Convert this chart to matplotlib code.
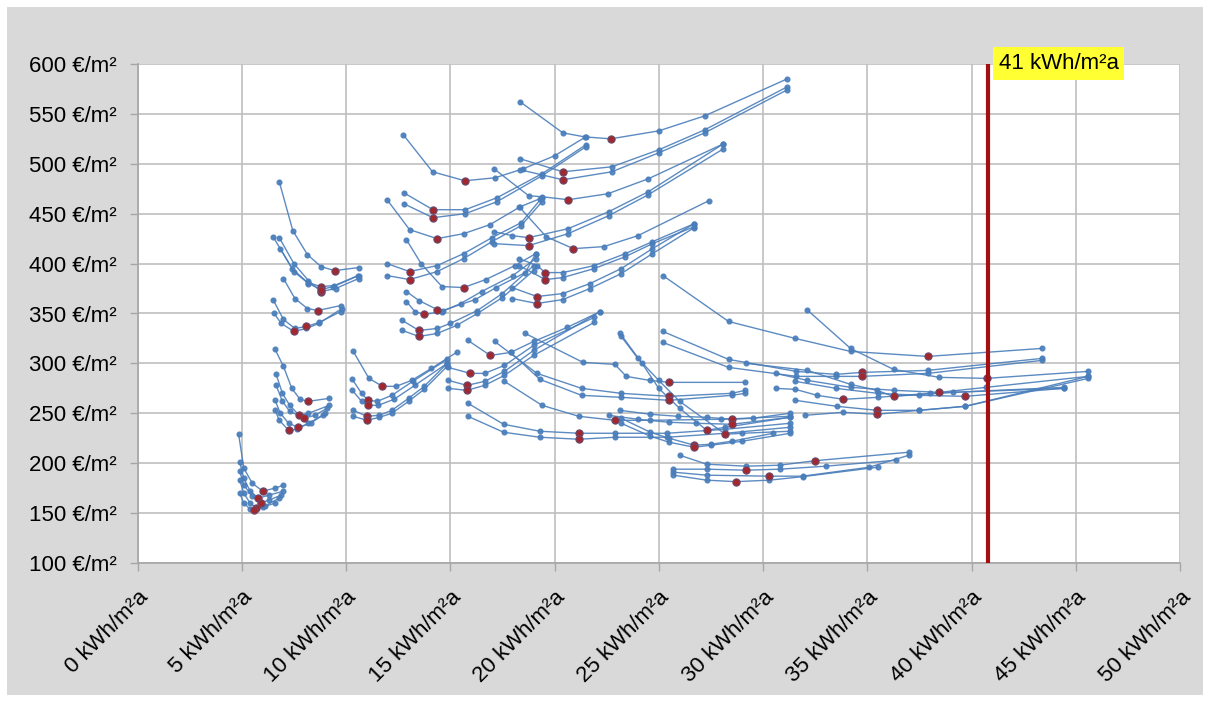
import matplotlib
matplotlib.use("Agg")
import matplotlib.pyplot as plt
from matplotlib.patches import Rectangle
import matplotlib.transforms as mtransforms

# ---------------- data: each curve = (energy values, cost values, index of optimum) -------------
x_ticks = [0, 5, 10, 15, 20, 25, 30, 35, 40, 45, 50]
x_tick_labels = [f"{v} kWh/m²a" for v in x_ticks]
y_ticks = [100, 150, 200, 250, 300, 350, 400, 450, 500, 550, 600]
y_tick_labels = [f"{v} €/m²" for v in y_ticks]
limit_value = 40.8
limit_label = "41 kWh/m²a"

group_a = [
    ([4.85, 5.1, 5.5, 6.0, 6.6, 7.0], [229, 195, 180, 172, 175, 178], 3),
    ([4.9, 5.1, 5.4, 5.8, 6.3, 7.0], [201, 185, 172, 165, 168, 172], 3),
    ([4.9, 5.1, 5.5, 5.9, 6.3, 6.9], [192, 178, 167, 160, 163, 168], 3),
    ([4.9, 5.1, 5.4, 5.7, 6.1, 6.8], [183, 170, 160, 155, 157, 165], 3),
    ([4.9, 5.1, 5.4, 5.6, 6.0, 6.6], [170, 160, 154, 153, 156, 160], 3),
]

group_b = [
    ([6.8, 7.45, 8.15, 8.8, 9.45, 10.6], [482, 433, 409, 397, 393, 396], 4),
    ([6.5, 7.42, 8.16, 8.8, 9.44, 10.58], [427, 395, 381, 377, 378, 388], 3),
    ([6.8, 7.5, 8.2, 8.8, 9.5, 10.6], [426, 400, 383, 372, 375, 385], 3),
    ([6.85, 7.5, 8.2, 8.8, 9.4, 10.6], [415, 392, 380, 374, 377, 388], 3),
    ([7.0, 7.55, 8.15, 8.65, 9.75], [385, 365, 355, 353, 358], 3),
    ([6.5, 7.0, 7.55, 8.1, 8.7, 9.75], [364, 344, 335, 337, 341, 352], 3),
    ([6.55, 6.9, 7.5, 8.1, 8.7, 9.8], [350, 340, 332, 335, 340, 355], 2),
    ([6.6, 7.0, 7.4, 7.8, 8.2, 9.2], [314, 297, 275, 264, 262, 265], 4),
    ([6.65, 6.95, 7.3, 7.75, 8.2, 9.2], [289, 270, 258, 248, 250, 258], 3),
    ([6.65, 6.95, 7.3, 8.0, 8.5, 9.1], [278, 262, 252, 245, 248, 255], 3),
    ([6.6, 6.85, 7.25, 7.7, 8.3, 9.0], [263, 250, 240, 236, 240, 250], 3),
    ([6.6, 6.8, 7.25, 7.65, 8.2, 8.9], [253, 243, 233, 234, 240, 248], 2),
]

group_c = [
    ([10.35, 11.1, 11.75, 12.4, 13.15, 14.1, 15.3], [312, 285, 277, 277, 283, 295, 311], 2),
    ([10.3, 10.75, 11.05, 11.5, 12.2, 13.2, 14.85], [284, 270, 263, 262, 268, 282, 304], 2),
    ([10.3, 10.75, 11.05, 11.55, 12.3, 13.3, 14.85], [273, 262, 258, 258, 264, 278, 300], 2),
    ([10.35, 11.0, 11.6, 12.2, 13.0, 13.75, 14.85], [253, 247, 248, 253, 265, 277, 300], 1),
    ([10.35, 11.0, 11.6, 12.2, 13.0, 13.75, 14.85], [247, 243, 246, 250, 262, 274, 297], 1),
]

group_d = [
    ([12.75, 14.15, 15.7, 17.15, 18.5, 20.0, 21.5], [529, 492, 483, 486, 495, 508, 527], 2),
    ([12.77, 14.17, 15.72, 17.24, 19.4, 21.5], [471, 454, 454, 466, 490, 519], 1),
    ([12.77, 14.17, 15.72, 17.24, 19.4, 21.5], [460, 446, 450, 462, 488, 517], 1),
    ([11.97, 13.05, 14.37, 15.64, 16.9, 18.36, 19.3], [464, 434, 425, 430, 439, 457, 465], 2),
    ([11.97, 13.05, 14.37, 15.64, 17.0, 18.4, 19.4], [400, 392, 398, 410, 426, 441, 466], 1),
    ([11.97, 13.05, 14.37, 15.64, 17.0, 18.4, 19.4], [388, 384, 392, 405, 422, 438, 462], 1),
    ([12.9, 13.6, 14.6, 15.64, 16.7, 18.1, 19.1], [424, 400, 377, 376, 384, 398, 410], 3),
    ([12.9, 13.5, 14.37, 14.65, 16.2, 17.2, 18.6, 19.1], [372, 363, 354, 353, 364, 376, 391, 410], 2),
    ([12.9, 13.3, 13.76, 14.6, 15.5, 16.5, 18.0, 19.1], [362, 352, 349, 352, 360, 372, 388, 405], 2),
    ([12.7, 13.5, 14.37, 15.0, 16.3, 17.5, 19.0], [343, 333, 335, 340, 353, 370, 398], 1),
    ([12.7, 13.5, 14.37, 15.3, 16.3, 17.5, 19.0], [333, 327, 330, 338, 350, 366, 393], 1),
]

group_e = [
    ([18.36, 20.4, 21.44, 22.7, 25.0, 27.2, 31.15], [562, 531, 527, 525, 533, 548, 585], 3),
    ([18.36, 20.4, 22.75, 25.0, 27.2, 31.15], [505, 492, 497, 514, 534, 577], 1),
    ([18.36, 20.4, 22.75, 25.0, 27.2, 31.15], [494, 484, 492, 511, 531, 574], 1),
    ([17.1, 18.76, 19.4, 20.66, 22.56, 24.5, 28.1], [495, 468, 467, 464, 470, 485, 520], 3),
    ([17.1, 17.96, 18.76, 20.65, 22.6, 24.5, 28.1], [432, 428, 426, 435, 452, 472, 520], 2),
    ([17.1, 18.76, 20.65, 22.6, 24.5, 28.1], [420, 418, 430, 448, 469, 515], 1),
    ([18.3, 19.6, 20.9, 22.36, 24.0, 27.4], [457, 427, 415, 417, 428, 463], 2),
    ([18.3, 19.16, 19.56, 20.4, 21.9, 23.4, 24.7, 26.7], [405, 398, 391, 391, 398, 410, 422, 440], 2),
    ([18.3, 19.56, 20.4, 21.9, 23.4, 24.7, 26.7], [398, 384, 386, 395, 407, 420, 437], 1),
    ([17.96, 19.16, 20.4, 21.7, 23.2, 24.7, 26.7], [376, 367, 370, 380, 395, 415, 440], 1),
    ([17.96, 19.16, 20.4, 21.7, 23.2, 24.7, 26.7], [365, 360, 364, 375, 390, 410, 436], 1),
]

group_f = [
    ([14.9, 15.96, 16.65, 17.6, 19.0, 21.9], [296, 290, 290, 298, 318, 346], 1),
    ([14.9, 15.8, 16.65, 17.6, 19.0, 22.2], [283, 278, 282, 292, 313, 352], 1),
    ([14.9, 15.8, 16.65, 17.6, 19.0, 21.9], [275, 273, 278, 288, 308, 341], 1),
    ([15.85, 16.92, 17.9, 19.0, 20.6, 22.2], [323, 308, 311, 322, 336, 352], 1),
]

group_g = [
    ([15.85, 17.56, 19.3, 21.17, 22.9, 25.4, 28.2, 31.3], [260, 239, 232, 230, 230, 230, 234, 240], 3),
    ([15.85, 17.56, 19.3, 21.17, 22.9, 25.4, 28.2, 31.3], [247, 231, 226, 224, 226, 226, 230, 236], 3),
]

group_j = [
    ([17.13, 19.16, 21.3, 23.2, 25.5, 28.5, 29.15], [322, 290, 275, 270, 267, 270, 273], 4),
    ([17.9, 19.3, 21.3, 23.2, 25.5, 28.5, 29.15], [311, 284, 268, 266, 263, 268, 270], 4),
    ([17.6, 19.4, 21.16, 22.9, 24.6, 28.0, 31.3], [282, 258, 247, 243, 243, 244, 247], 3),
    ([18.6, 21.37, 22.9, 23.44, 24.56, 25.5, 29.15], [330, 301, 299, 287, 283, 281, 281], 5),
]

group_l = [
    ([23.15, 24.2, 25.0, 26.0, 27.3, 28.2, 31.3], [330, 300, 275, 255, 233, 236, 246], 4),
    ([23.2, 24.0, 25.0, 26.0, 28.2, 29.0, 31.3], [327, 305, 283, 262, 229, 230, 232], 4),
    ([23.15, 24.6, 25.9, 27.3, 28.5, 29.5, 31.3], [253, 249, 247, 246, 244, 245, 250], 4),
    ([22.6, 24.0, 25.5, 26.8, 28.5, 31.3], [248, 244, 241, 240, 239, 246], 4),
    ([23.2, 24.6, 25.5, 26.7, 27.5, 28.5, 30.5], [245, 231, 225, 218, 219, 222, 230], 3),
    ([23.2, 24.6, 25.5, 26.7, 27.5, 29.0, 31.3], [240, 227, 221, 216, 218, 222, 230], 3),
]

group_m = [
    ([26.0, 27.3, 29.2, 30.8, 32.5, 37.0], [208, 199, 197, 198, 202.5, 211], 4),
    ([25.7, 27.3, 29.2, 30.8, 33.0, 36.4], [194, 194, 193, 194, 197, 203], 2),
    ([25.7, 27.3, 28.7, 30.3, 31.9, 35.5], [188, 183, 181.5, 183, 186.5, 196], 2),
    ([25.7, 27.3, 30.27, 31.9, 35.1, 37.0], [191, 188, 187, 187, 196, 208], 2),
]

group_h = [
    ([25.2, 28.35, 31.55, 34.2, 37.9, 43.37], [388, 342, 325, 312, 307, 315], 4),
    ([32.1, 34.2, 36.26, 38.46, 40.73, 45.6], [354, 315, 294, 286, 285, 292], 4),
    ([25.2, 28.35, 31.6, 33.5, 34.74, 37.9, 43.37], [332, 304, 292, 289, 291, 293, 305], 4),
    ([25.2, 28.35, 31.6, 33.5, 34.74, 37.9, 43.37], [321, 296, 287, 287, 287, 290, 303], 4),
]

group_i = [
    ([29.2, 32.13, 34.2, 35.46, 36.26, 39.1, 44.44], [300, 293, 279, 273, 267, 271, 275], 4),
    ([30.6, 32.13, 34.2, 36.3, 38.46, 40.7, 45.6], [290, 283, 276, 273, 271, 276, 287], 4),
    ([31.55, 33.5, 35.5, 37.5, 39.7, 44.44], [282, 275, 270, 268, 267, 275], 4),
    ([30.6, 31.55, 32.6, 33.86, 35.5, 38.0, 44.44], [275, 274, 268, 264, 266, 270, 276], 3),
    ([31.55, 33.54, 35.46, 37.5, 39.7, 45.6], [263, 257, 253, 253, 257, 287], 2),
    ([32.0, 33.86, 35.46, 37.5, 39.7, 45.6], [248, 251, 249, 253, 257, 285], 2),
]

all_groups = [group_a, group_b, group_c, group_d, group_e, group_f,
              group_g, group_j, group_l, group_m, group_h, group_i]

# ---------------- drawing -------------------------------------------------------------------------
plt.rcParams["font.family"] = ["Liberation Sans", "DejaVu Sans"]
W, H = 1210, 702
fig = plt.figure(figsize=(W / 100, H / 100), dpi=100, facecolor="white")
fig.patches.append(Rectangle((7 / W, 7 / H), (1203 - 7) / W, (695 - 7) / H,
                             transform=fig.transFigure, facecolor="#d9d9d9",
                             edgecolor="none", zorder=-10))

ax = fig.add_axes([137.5 / W, 1 - 563 / H, (1180 - 137.5) / W, (563 - 64) / H])
ax.set_zorder(1)
ax.set_facecolor("white")
ax.set_xlim(0, 50)
ax.set_ylim(100, 600)

blue = "#4a7ebb"
for group in all_groups:
    for xs, ys, opt in group:
        ax.plot(xs, ys, color=blue, lw=1.0, marker="o", ms=3.4, mfc=blue, mec=blue,
                alpha=0.9, zorder=3)
        ax.plot([xs[opt]], [ys[opt]], ls="none", marker="o", ms=5.2, mfc="#a3282d",
                mec="#6a4a6e", mew=0.8, zorder=4)

ax.axvline(limit_value, color="#a50f0f", lw=3, zorder=5)
ax.text(limit_value + 0.5, 600.5, limit_label, fontsize=16, color="black", ha="left",
        va="center", zorder=6, clip_on=False,
        bbox=dict(boxstyle="square,pad=0.25", facecolor="#ffff33", edgecolor="none"))

ax.set_xticks(x_ticks)
ax.set_xticklabels(x_tick_labels, rotation=45, ha="right", va="top", rotation_mode="anchor")
ax.set_yticks(y_ticks)
ax.set_yticklabels(y_tick_labels)
offset = mtransforms.ScaledTranslation(1 / 100, 0, fig.dpi_scale_trans)
for lab in ax.get_xticklabels():
    lab.set_transform(lab.get_transform() + offset)

ax.tick_params(axis="both", length=6, width=1, color="#a6a6a6", labelsize=16,
               labelcolor="black")
ax.tick_params(axis="y", pad=9)
ax.tick_params(axis="x", pad=11)
ax.grid(True, color="#bfbfbf", lw=1.2, zorder=1)
ax.set_axisbelow(True)
for side in ["top", "right"]:
    ax.spines[side].set_visible(False)
for side in ["left", "bottom"]:
    ax.spines[side].set_color("#a6a6a6")
    ax.spines[side].set_linewidth(1.2)

fig.savefig("out.png", dpi=100, facecolor="white")
